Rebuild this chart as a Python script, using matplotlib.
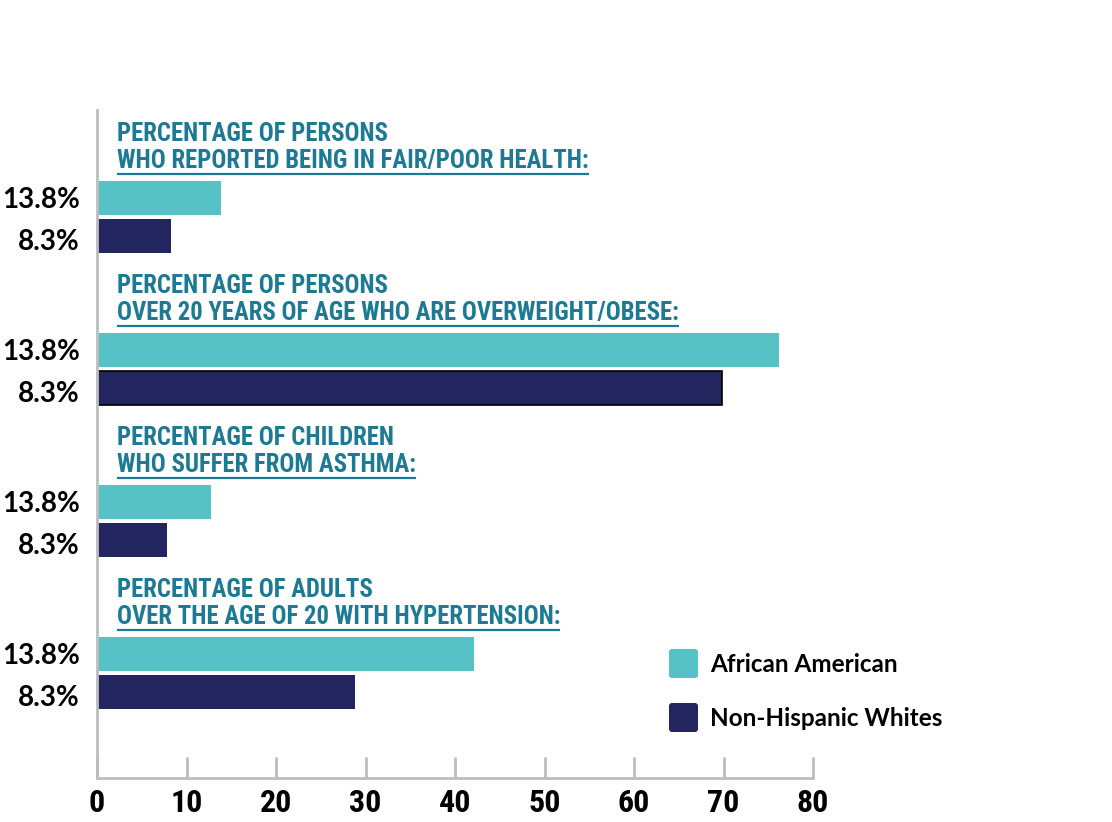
import matplotlib
matplotlib.use("Agg")
import matplotlib.pyplot as plt
from matplotlib import font_manager as fm
from matplotlib.patches import FancyBboxPatch

categories = [
    ["PERCENTAGE OF PERSONS", "WHO REPORTED BEING IN FAIR/POOR HEALTH:"],
    ["PERCENTAGE OF PERSONS", "OVER 20 YEARS OF AGE WHO ARE OVERWEIGHT/OBESE:"],
    ["PERCENTAGE OF CHILDREN", "WHO SUFFER FROM ASTHMA:"],
    ["PERCENTAGE OF ADULTS", "OVER THE AGE OF 20 WITH HYPERTENSION:"],
]
african_american = [13.8, 76.2, 12.7, 42.1]
non_hispanic_whites = [8.3, 69.8, 7.8, 28.8]
bar_labels = ["13.8%", "8.3%"]
series_names = ["African American", "Non-Hispanic Whites"]
xticks = [0, 10, 20, 30, 40, 50, 60, 70, 80]

TEAL = "#56C2C5"
NAVY = "#23255E"
TITLE = "#1C7A94"

avail = {f.name for f in fm.fontManager.ttflist}
def pick(*names):
    for n in names:
        if n in avail:
            return n
    return "DejaVu Sans"
cond = pick("Liberation Sans Narrow", "Roboto Condensed", "DejaVu Sans Condensed", "DejaVu Sans")
geo = pick("Lato", "Open Sans", "DejaVu Sans")

fig = plt.figure(figsize=(11.12, 8.22), dpi=100)
W, H = 1112, 822
ax = fig.add_axes([97 / W, 1 - 778 / H, (813 - 97) / W, (778 - 110) / H])

ax.set_xlim(0, 80)
ax.set_ylim(15.26, -2.316)

for i in range(len(categories)):
    ya = 4 * i
    yn = 4 * i + 1
    ax.barh(ya, african_american[i], height=0.9, color=TEAL, left=0)
    ax.barh(yn, non_hispanic_whites[i], height=0.9, color=NAVY, left=0,
            edgecolor="black" if i == 1 else NAVY, linewidth=1.2 if i == 1 else 0)
    ax.text(-1.9, ya + 0.05, bar_labels[0], ha="right", va="center", fontsize=20,
            fontweight="bold", family=geo, color="black")
    ax.text(-1.9, yn + 0.15, bar_labels[1], ha="right", va="center", fontsize=20,
            fontweight="bold", family=geo, color="black")
    ax.text(2.23, ya - 1.68, categories[i][0], ha="left", va="center", fontsize=17.8,
            fontweight="bold", family=cond, color=TITLE)
    t2 = ax.text(2.23, ya - 0.97, categories[i][1], ha="left", va="center", fontsize=17.8,
                 fontweight="bold", family=cond, color=TITLE)
    t2._underline = True

for s in ["top", "right"]:
    ax.spines[s].set_visible(False)
for s in ["left", "bottom"]:
    ax.spines[s].set_color("#BDBDBD")
    ax.spines[s].set_linewidth(2)

ax.set_yticks([])
ax.set_xticks(xticks)
ax.set_xticklabels([str(v) for v in xticks], fontsize=23, fontweight="bold", family=cond)
ax.tick_params(axis="x", direction="in", length=15, width=2, color="#BDBDBD", pad=7)

# legend
lax = fig.add_axes([0, 0, 1, 1], facecolor="none")
lax.set_xlim(0, W)
lax.set_ylim(H, 0)
lax.axis("off")
for k, (name, col) in enumerate(zip(series_names, [TEAL, NAVY])):
    y0 = 648 + 54 * k
    lax.add_patch(FancyBboxPatch((669, y0 + 1), 29, 29, boxstyle="round,pad=0,rounding_size=3",
                                 facecolor=col, edgecolor="none"))
    lax.text(710, y0 + 16, name, ha="left", va="center", fontsize=17.5, fontweight="bold",
             family=geo, color="black")

# underlines
fig.canvas.draw()
r = fig.canvas.get_renderer()
for t in ax.texts:
    if getattr(t, "_underline", False):
        bb = t.get_window_extent(r)
        yline = bb.y0 - 1
        lax.plot([bb.x0, bb.x1], [H - yline, H - yline], color=TITLE, lw=1.6,
                 solid_capstyle="butt")

fig.savefig("out.png", dpi=100)
